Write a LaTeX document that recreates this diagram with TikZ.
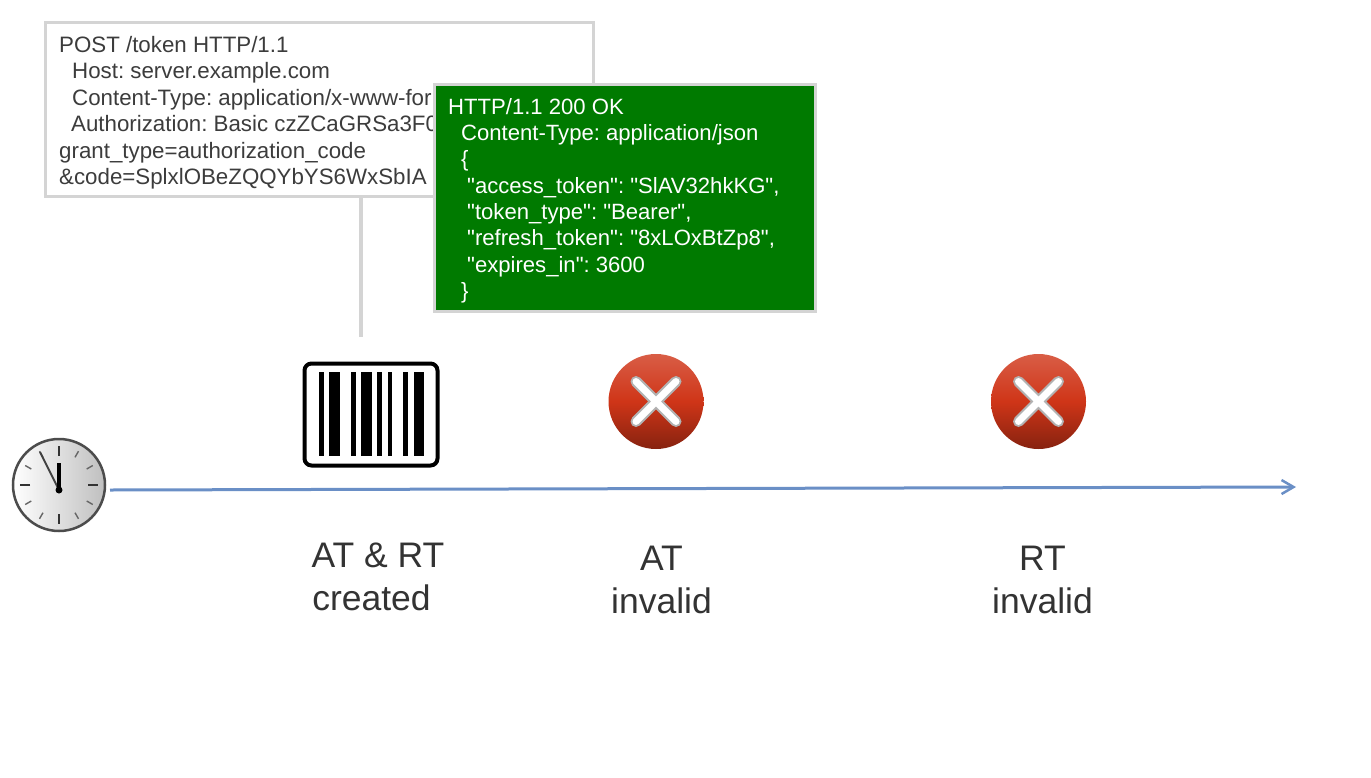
\documentclass[tikz,border=0pt]{standalone}
\usepackage{fontspec}
\setmainfont{Liberation Sans}
\newfontfamily\msgfont{Liberation Sans}
\frenchspacing
\usetikzlibrary{arrows.meta}
\definecolor{boxgray}{HTML}{D4D4D4}
\definecolor{txtgray}{HTML}{3C3C3C}
\definecolor{bargreen}{HTML}{007A00}
\definecolor{axisblue}{HTML}{6A8FC6}
\definecolor{xred}{HTML}{CF3518}
\tikzset{
  msgbox/.style={draw=boxgray,line width=3pt,rectangle,inner sep=0pt,anchor=north west},
  msgtext/.style={anchor=north west,align=left,inner sep=0pt,font=\msgfont\fontsize{22.3}{26.4}\selectfont},
  resptextstyle/.style={msgtext,text=white,font=\msgfont\fontsize{22.1}{26.3}\selectfont},
  biglabel/.style={font=\fontsize{35.5}{42.5}\selectfont,text=black!80,align=center,inner sep=0pt},
  bar/.style={fill=black,draw=none},
  tick/.style={line width=2.4pt,draw=black!80},
  fine/.style={line width=1.4pt,draw=black!60},
  ballbase/.style={circle,minimum size=95pt,inner sep=0pt,draw=none,
     top color=xred!80!white,bottom color=xred!65!black,middle color=xred},
}
\newcommand{\failmark}[2]{%
  \node[ballbase] (#1) at (#2) {};
  \begin{scope}[shift={(#2)}]
    \draw[line width=11pt,line cap=round,draw=black!30] (-20,-20) -- (20,20) (-20,20) -- (20,-20);
    \draw[line width=7pt,line cap=round,draw=white] (-20,-20) -- (20,20) (-20,20) -- (20,-20);
  \end{scope}
}
\begin{document}
\begin{tikzpicture}[x=1pt,y=-1pt]
\useasboundingbox (0,0) rectangle (1371,777);
% request box
\node[msgbox,fill=white,minimum width=548pt,minimum height=174pt] (req) at (44,21) {};
\coordinate (reqend) at (361,337);
\draw[boxgray,line width=3.5pt] (req.south -| reqend) -- (reqend);
\node[msgtext,text=txtgray] (reqtext) at (59,36.2) {POST /token HTTP/1.1\\
\hspace*{13pt}Host: server.example.com\\
\hspace*{13pt}Content-Type: application/x-www-for\\
\hspace*{12pt}Authorization: Basic czZCaGRSa3F0\\
grant\_type=authorization\_code\\
\&code=SplxlOBeZQQYbYS6WxSbIA};
% response box
\node[msgbox,fill=bargreen,minimum width=381pt,minimum height=227pt] (resp) at (433,83) {};
\node[resptextstyle] (resptext) at (448,98) {HTTP/1.1 200 OK\\
\hspace*{13pt}Content-Type: application/json\\
\hspace*{13pt}\{\\
\hspace*{19pt}"access\_token": "SlAV32hkKG",\\
\hspace*{19pt}"token\_type": "Bearer",\\
\hspace*{19pt}"refresh\_token": "8xLOxBtZp8",\\
\hspace*{19pt}"expires\_in": 3600\\
\hspace*{13pt}\}};
% clock
\node[circle,minimum size=92pt,inner sep=0pt,draw=black!70,line width=2.5pt,
      left color=white,right color=black!25] (clock) at (59,485) {};
\begin{scope}[shift={(clock.center)}]
  \foreach \a in {0,90,180,270} {
    \draw[tick] (\a:29) -- (\a:39);
  }
  \foreach \a in {30,60,120,150,210,240,300,330} {
    \draw[fine] (\a:32) -- (\a:39);
  }
  \draw[line width=2pt,black!75] (0,5) -- (-19,-33);
  \draw[line width=4pt,black] (0,5) -- (0,-22);
  \fill[black] (0,5) circle (3.5pt);
\end{scope}
% barcode
\node[draw=black,line width=4pt,rounded corners=7pt,fill=white,minimum width=133pt,minimum height=102pt,inner sep=0pt] (code) at (371,414.5) {};
\foreach \l/\r in {319/324,329/340,351/356,361/372,377/382,388/392,403/408,414/424} {
  \fill[bar] (\l,372) rectangle (\r,456);
}
% failure marks
\failmark{atx}{656,401.5}
\failmark{rtx}{1038.5,401.5}
% axis
\coordinate (axisend) at (1296,487);
\draw[axisblue,line width=3pt,-{Straight Barb[length=12pt,width=14pt,line width=2.5pt]}] (clock.center) ++(51,5) -- (axisend);
% labels
\node[biglabel] (l1a) at (378,555) {AT \& RT};
\node[biglabel] (l1b) at (371.5,598) {created};
\node[biglabel] (l2) at (661.5,580) {AT\\invalid};
\node[biglabel] (l3) at (1042.5,580) {RT\\invalid};
\end{tikzpicture}
\end{document}
